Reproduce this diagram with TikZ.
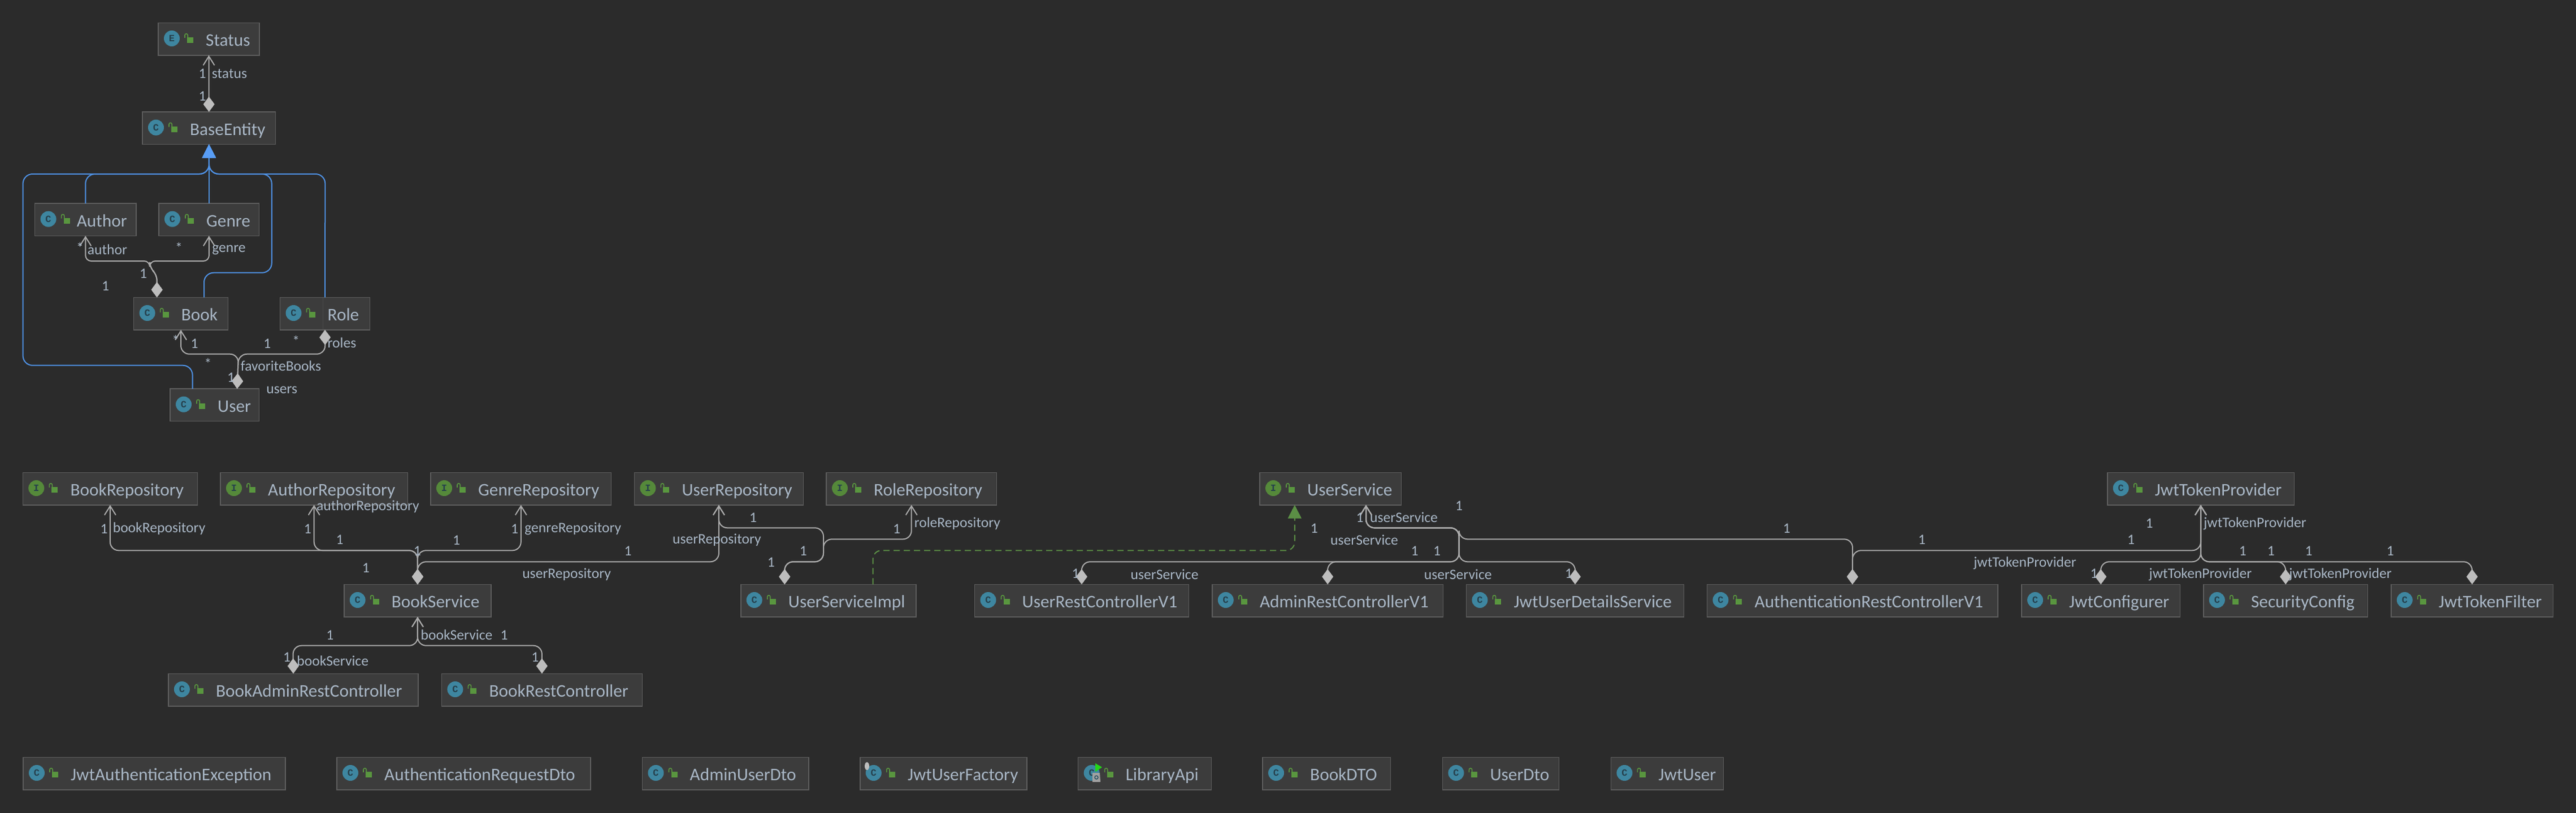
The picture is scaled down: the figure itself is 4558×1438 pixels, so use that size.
\documentclass[tikz,border=0pt]{standalone}
\usepackage{fontspec}
\usetikzlibrary{arrows.meta,calc}
\setmainfont{Carlito}
\newfontfamily\iconfont{Liberation Mono}
\definecolor{bgc}{HTML}{2B2B2B}
\definecolor{boxf}{HTML}{3C3C3C}
\definecolor{boxb}{HTML}{5E5E5E}
\definecolor{txt}{HTML}{A9B7C6}
\definecolor{linec}{HTML}{ABABAB}
\definecolor{diamc}{HTML}{BDBDBD}
\definecolor{bluel}{HTML}{4F92E6}
\definecolor{blueh}{HTML}{589DF6}
\definecolor{greenl}{HTML}{5B8F45}
\definecolor{iconC}{HTML}{3E86A0}
\definecolor{iconI}{HTML}{55893A}
\definecolor{iconE}{HTML}{3E86A0}
\definecolor{lockc}{HTML}{59963F}
\definecolor{letc}{HTML}{26404C}
\tikzset{
  umlb/.style={draw=boxb,fill=boxf,line width=1.6pt,minimum height=57.4pt,inner sep=0pt,outer sep=0pt},
  umltext/.style={text=txt,inner sep=0pt,font=\fontsize{31.3}{36}\selectfont},
  umlicon/.style={circle,minimum size=28pt,inner sep=0pt,text=letc,font=\iconfont\bfseries\fontsize{17}{18}\selectfont},
  lbl/.style={text=txt,inner sep=0pt,font=\fontsize{25.6}{30}\selectfont},
  conn/.style={draw=linec,line width=2pt,rounded corners=15pt},
  both/.style={conn,{Diamond[length=27pt,width=20pt,fill=diamc,line width=0pt]}-{Straight Barb[length=16pt,width=20pt]}},
  twod/.style={conn,{Diamond[length=27pt,width=20pt,fill=diamc,line width=0pt]}-{Diamond[length=27pt,width=20pt,fill=diamc,line width=0pt]}},
  inh/.style={draw=bluel,line width=2pt,rounded corners=17pt,-{Triangle[length=24pt,width=24pt,fill=blueh,color=blueh]}},
  impl/.style={draw=greenl,line width=2pt,rounded corners=15pt,dash pattern=on 11pt off 7pt,-{Triangle[length=24pt,width=24pt,fill=greenl,color=greenl]}}
}
\newcommand\umlbox[7][84]{%
  \pgfmathsetmacro\cxv{(#4+#5)/2}%
  \pgfmathsetmacro\wv{#5-#4}%
  \node[umlb,minimum width=\wv pt] (#3) at (\cxv,#6+28.7) {};
  \node[umltext,anchor=base west] (#3-text) at (#4+#1,#6+41.3) {#7};
  \node[umlicon,fill=icon#2] (#3-icon) at (#4+24,#6+27.7) {#2};
  \fill[lockc] (#4+51,#6+25.7) rectangle (#4+62,#6+35.7);
  \draw[lockc,line width=1.6pt] (#4+47,#6+26.5) -- (#4+47,#6+22) arc[start angle=180,end angle=0,radius=2.6pt] -- (#4+52.2,#6+26);
}
\begin{document}
\begin{tikzpicture}[x=1pt,y=-1pt]
\useasboundingbox (0,0) rectangle (4558,1438);
\fill[bgc] (-5,-5) rectangle (4563,1443);
% domain
\umlbox{E}{Status}{280}{459}{40.3}{Status}
\umlbox{C}{BaseEntity}{252}{487.5}{198}{BaseEntity}
\umlbox[74]{C}{Author}{61.6}{241}{360}{Author}
\umlbox{C}{Genre}{281}{458.5}{360}{Genre}
\umlbox{C}{Book}{236.6}{403.6}{526.3}{Book}
\umlbox{C}{Role}{495.5}{654.5}{526.3}{Role}
\umlbox{C}{User}{301}{458.5}{688}{User}
\draw[boxb!45!boxf,line width=1pt] (571.4,527) -- (571.4,583);
% repositories
\umlbox{I}{BookRepository}{40.3}{349.5}{836.3}{BookRepository}
\umlbox{I}{AuthorRepository}{390}{721.4}{836.3}{AuthorRepository}
\umlbox{I}{GenreRepository}{762}{1081.6}{836.3}{GenreRepository}
\umlbox{I}{UserRepository}{1122.4}{1421.4}{836.3}{UserRepository}
\umlbox{I}{RoleRepository}{1462}{1763.4}{836.3}{RoleRepository}
\umlbox{I}{UserService}{2229}{2479.6}{836.3}{UserService}
\umlbox{C}{JwtTokenProvider}{3728.7}{4059.4}{836.3}{JwtTokenProvider}
% row 2
\umlbox{C}{BookService}{608.7}{869.2}{1034.3}{BookService}
\umlbox{C}{UserServiceImpl}{1310.7}{1621}{1034.3}{UserServiceImpl}
\umlbox{C}{UserRestControllerV1}{1724.5}{2103.3}{1034.3}{UserRestControllerV1}
\umlbox{C}{AdminRestControllerV1}{2144.8}{2553.6}{1034.3}{AdminRestControllerV1}
\umlbox{C}{JwtUserDetailsService}{2594.4}{2979.6}{1034.3}{JwtUserDetailsService}
\umlbox{C}{AuthenticationRestControllerV1}{3020.4}{3535}{1034.3}{AuthenticationRestControllerV1}
\umlbox{C}{JwtConfigurer}{3577}{3857.6}{1034.3}{JwtConfigurer}
\umlbox{C}{SecurityConfig}{3898.8}{4189.6}{1034.3}{SecurityConfig}
\umlbox{C}{JwtTokenFilter}{4230.8}{4517.5}{1034.3}{JwtTokenFilter}
% row 3
\umlbox{C}{BookAdminRestController}{297.9}{740.2}{1192.3}{BookAdminRestController}
\umlbox{C}{BookRestController}{781.4}{1136.4}{1192.3}{BookRestController}
% row 4
\umlbox{C}{JwtAuthenticationException}{41}{505}{1340.3}{JwtAuthenticationException}
\umlbox{C}{AuthenticationRequestDto}{596}{1044.7}{1340.3}{AuthenticationRequestDto}
\umlbox{C}{AdminUserDto}{1136.5}{1431}{1340.3}{AdminUserDto}
\umlbox{C}{JwtUserFactory}{1521.8}{1816.7}{1340.3}{JwtUserFactory}
\umlbox{C}{LibraryApi}{1907.6}{2143.3}{1340.3}{LibraryApi}
\umlbox{C}{BookDTO}{2234}{2460.6}{1340.3}{BookDTO}
\umlbox{C}{UserDto}{2552.4}{2758.6}{1340.3}{UserDto}
\umlbox{C}{JwtUser}{2850.4}{3049.4}{1340.3}{JwtUser}
% special icon marks
\fill[diamc] (1534,1356) ellipse[x radius=4pt,y radius=7pt];
\fill[green!60!lockc] (1938,1351) -- (1950,1358) -- (1938,1366) -- cycle;
\fill[diamc!85!black] (1933,1368) -- (1946,1368) -- (1947,1384) -- (1933,1384) -- cycle;
\draw[iconC!60!black,line width=1.4pt] (1940,1376) circle[radius=3pt];
% anchor points on the boxes
\coordinate (Book-d) at ($(Book.north west)+(41.1,0)$);
\coordinate (Book-b) at ($(Book.north west)+(124.4,0)$);
\coordinate (User-d) at ($(User.north west)+(118.6,0)$);
\coordinate (User-b) at ($(User.north west)+(39.6,0)$);
\coordinate (Impl-d) at ($(UserServiceImpl.north west)+(77.6,0)$);
\coordinate (Impl-g) at ($(UserServiceImpl.north west)+(233.9,0)$);
\coordinate (USvc-g) at ($(UserService.south west)+(61.8,0)$);
\coordinate (USvc-a) at ($(UserService.south west)+(188,0)$);
\coordinate (URC-d) at ($(UserRestControllerV1.north)+(0,0)$);
\coordinate (Auth-d) at (AuthenticationRestControllerV1.north);
% inheritance
\draw[inh] (Genre.north) -- (BaseEntity.south);
\draw[inh] (Author.north) -- (151.3,308) -- (370,308) -- (BaseEntity.south);
\draw[inh] (User-b) -- (340.6,646.7) -- (40.6,646.7) -- (40.6,308) -- (370,308) -- (BaseEntity.south);
\draw[inh] (Book-b) -- (361,482.7) -- (480.8,482.7) -- (480.8,308) -- (370,308) -- (BaseEntity.south);
\draw[inh] (Role.north) -- (575.4,308) -- (370,308) -- (BaseEntity.south);
\draw[impl] (Impl-g) -- (1544.6,974.3) -- (2290.8,974.3) -- (USvc-g);
% associations: domain
\draw[both] (BaseEntity.north) -- (Status.south);
\draw[both,rounded corners=10pt] (Book-d) -- (277.7,486) -- (265,474) -- (265,462) -- (151.3,462) -- (Author.south);
\draw[both,rounded corners=10pt] (Book-d) -- (277.7,486) -- (265,474) -- (265,462) -- (370,462) -- (Genre.south);
\draw[both] (User-d) -- (422,626.7) -- (320,626.7) -- (Book.south);
\draw[twod] (User-d) -- (422,626.7) -- (575.4,626.7) -- (Role.south);
% associations: services
\draw[both] (BookService.north) -- (738.9,974.3) -- (BookRepository.south |- 0,974.3) -- (BookRepository.south);
\draw[both] (BookService.north) -- (738.9,974.3) -- (AuthorRepository.south |- 0,974.3) -- (AuthorRepository.south);
\draw[both] (BookService.north) -- (738.9,974.3) -- (GenreRepository.south |- 0,974.3) -- (GenreRepository.south);
\draw[both] (BookService.north) -- (738.9,994.3) -- (UserRepository.south |- 0,994.3) -- (UserRepository.south);
\draw[both] (Impl-d) -- (1388.3,994.3) -- (1457,994.3) -- (1457,934.3) -- (UserRepository.south |- 0,934.3) -- (UserRepository.south);
\draw[both] (Impl-d) -- (1388.3,994.3) -- (1457,994.3) -- (1457,954.3) -- (RoleRepository.south |- 0,954.3) -- (RoleRepository.south);
\draw[both] (BookAdminRestController.north) -- (518.4,1142.7) -- (739,1142.7) -- (BookService.south);
\draw[both] (BookRestController.north) -- (958.9,1142.7) -- (739,1142.7) -- (BookService.south);
\draw[both] (URC-d) -- (1913.9,994.3) -- (2581.6,994.3) -- (2581.6,934.3) -- (USvc-a |- 0,934.3) -- (USvc-a);
\draw[both] (AdminRestControllerV1.north) -- (2349,994.3) -- (2581.6,994.3) -- (2581.6,934.3) -- (USvc-a |- 0,934.3) -- (USvc-a);
\draw[both] (JwtUserDetailsService.north) -- (2787,994.3) -- (2581.6,994.3) -- (2581.6,934.3) -- (USvc-a |- 0,934.3) -- (USvc-a);
\draw[both] (Auth-d) -- (3278,954.3) -- (2581.6,954.3) -- (2581.6,934.3) -- (USvc-a |- 0,934.3) -- (USvc-a);
\draw[both] (Auth-d) -- (3278,974.3) -- (3894,974.3) -- (JwtTokenProvider.south);
\draw[both] (JwtConfigurer.north) -- (3717,994.3) -- (3894,994.3) -- (JwtTokenProvider.south);
\draw[both] (SecurityConfig.north) -- (4044,994.3) -- (3894,994.3) -- (JwtTokenProvider.south);
\draw[both] (JwtTokenFilter.north) -- (4374,994.3) -- (3894,994.3) -- (JwtTokenProvider.south);
% labels
\node[lbl] (a1) at (358,130) {1};
\node[lbl] (a2) at (406,130) {status};
\node[lbl] (a3) at (358,170) {1};
\node[lbl] (b1) at (141.5,438) {*};
\node[lbl] (b2) at (190,442) {author};
\node[lbl] (b3) at (316.5,438) {*};
\node[lbl] (b4) at (405,442) {genre};
\node[lbl] (b5) at (253.6,484) {1};
\node[lbl] (b6) at (186.6,506) {1};
\node[lbl] (c1) at (310.7,602.7) {*};
\node[lbl] (c2) at (344,608) {1};
\node[lbl] (c3) at (472.8,608) {1};
\node[lbl] (c4) at (523.7,603) {*};
\node[lbl] (c5) at (605,607) {roles};
\node[lbl] (c6) at (497,648) {favoriteBooks};
\node[lbl] (c7) at (368,643) {*};
\node[lbl] (c8) at (408.5,668) {1};
\node[lbl] (c9) at (498.7,690.7) {users};
\node[lbl] (d1) at (184,936) {1};
\node[lbl] (d2) at (281.6,936) {bookRepository};
\node[lbl] (d3) at (544.4,936) {1};
\node[lbl] (d4) at (651,896.7) {authorRepository};
\node[lbl] (d5) at (601,955.7) {1};
\node[lbl] (d6) at (738.3,975) {1};
\node[lbl] (d7) at (647.4,1005.7) {1};
\node[lbl] (d8) at (807.7,956) {1};
\node[lbl] (d9) at (910.7,936) {1};
\node[lbl] (d10) at (1013.8,936) {genreRepository};
\node[lbl] (d11) at (1111,975.7) {1};
\node[lbl] (d12) at (1268.4,956) {userRepository};
\node[lbl] (d13) at (1002.6,1016.7) {userRepository};
\node[lbl] (d14) at (1332.7,916) {1};
\node[lbl] (d15) at (1421.4,975.7) {1};
\node[lbl] (d16) at (1364.3,995.7) {1};
\node[lbl] (d17) at (1586.7,936) {1};
\node[lbl] (d18) at (1693.9,926.7) {roleRepository};
\node[lbl] (e1) at (583.9,1124) {1};
\node[lbl] (e2) at (892.2,1124) {1};
\node[lbl] (e3) at (808,1124) {bookService};
\node[lbl] (e4) at (588.7,1169.7) {bookService};
\node[lbl] (e5) at (507.5,1163) {1};
\node[lbl] (e6) at (946.8,1163) {1};
\node[lbl] (f1) at (2406,916) {1};
\node[lbl] (f2) at (2484,916) {userService};
\node[lbl] (f3) at (2325.3,935.7) {1};
\node[lbl] (f4) at (2414,956) {userService};
\node[lbl] (f5) at (2060.6,1016.7) {userService};
\node[lbl] (f6) at (1903,1015.7) {1};
\node[lbl] (f7) at (2581.6,895.7) {1};
\node[lbl] (f8) at (2503,975.7) {1};
\node[lbl] (f9) at (2542.7,975.7) {1};
\node[lbl] (f10) at (2579.7,1016.7) {userService};
\node[lbl] (f11) at (2775.5,1015.7) {1};
\node[lbl] (f12) at (3161.4,935.7) {1};
\node[lbl] (f13) at (3400.5,955.7) {1};
\node[lbl] (g1) at (3803,926) {1};
\node[lbl] (g2) at (3770.6,955.7) {1};
\node[lbl] (g3) at (3990,926.7) {jwtTokenProvider};
\node[lbl] (g4) at (3968.3,975.7) {1};
\node[lbl] (g5) at (4018.2,975.7) {1};
\node[lbl] (g6) at (4085,975.7) {1};
\node[lbl] (g7) at (4229.4,975.7) {1};
\node[lbl] (g8) at (3583,996.7) {jwtTokenProvider};
\node[lbl] (g9) at (3893.4,1016.7) {jwtTokenProvider};
\node[lbl] (g10) at (4141,1016.7) {jwtTokenProvider};
\node[lbl] (g11) at (3705,1015.7) {1};
\end{tikzpicture}
\end{document}
